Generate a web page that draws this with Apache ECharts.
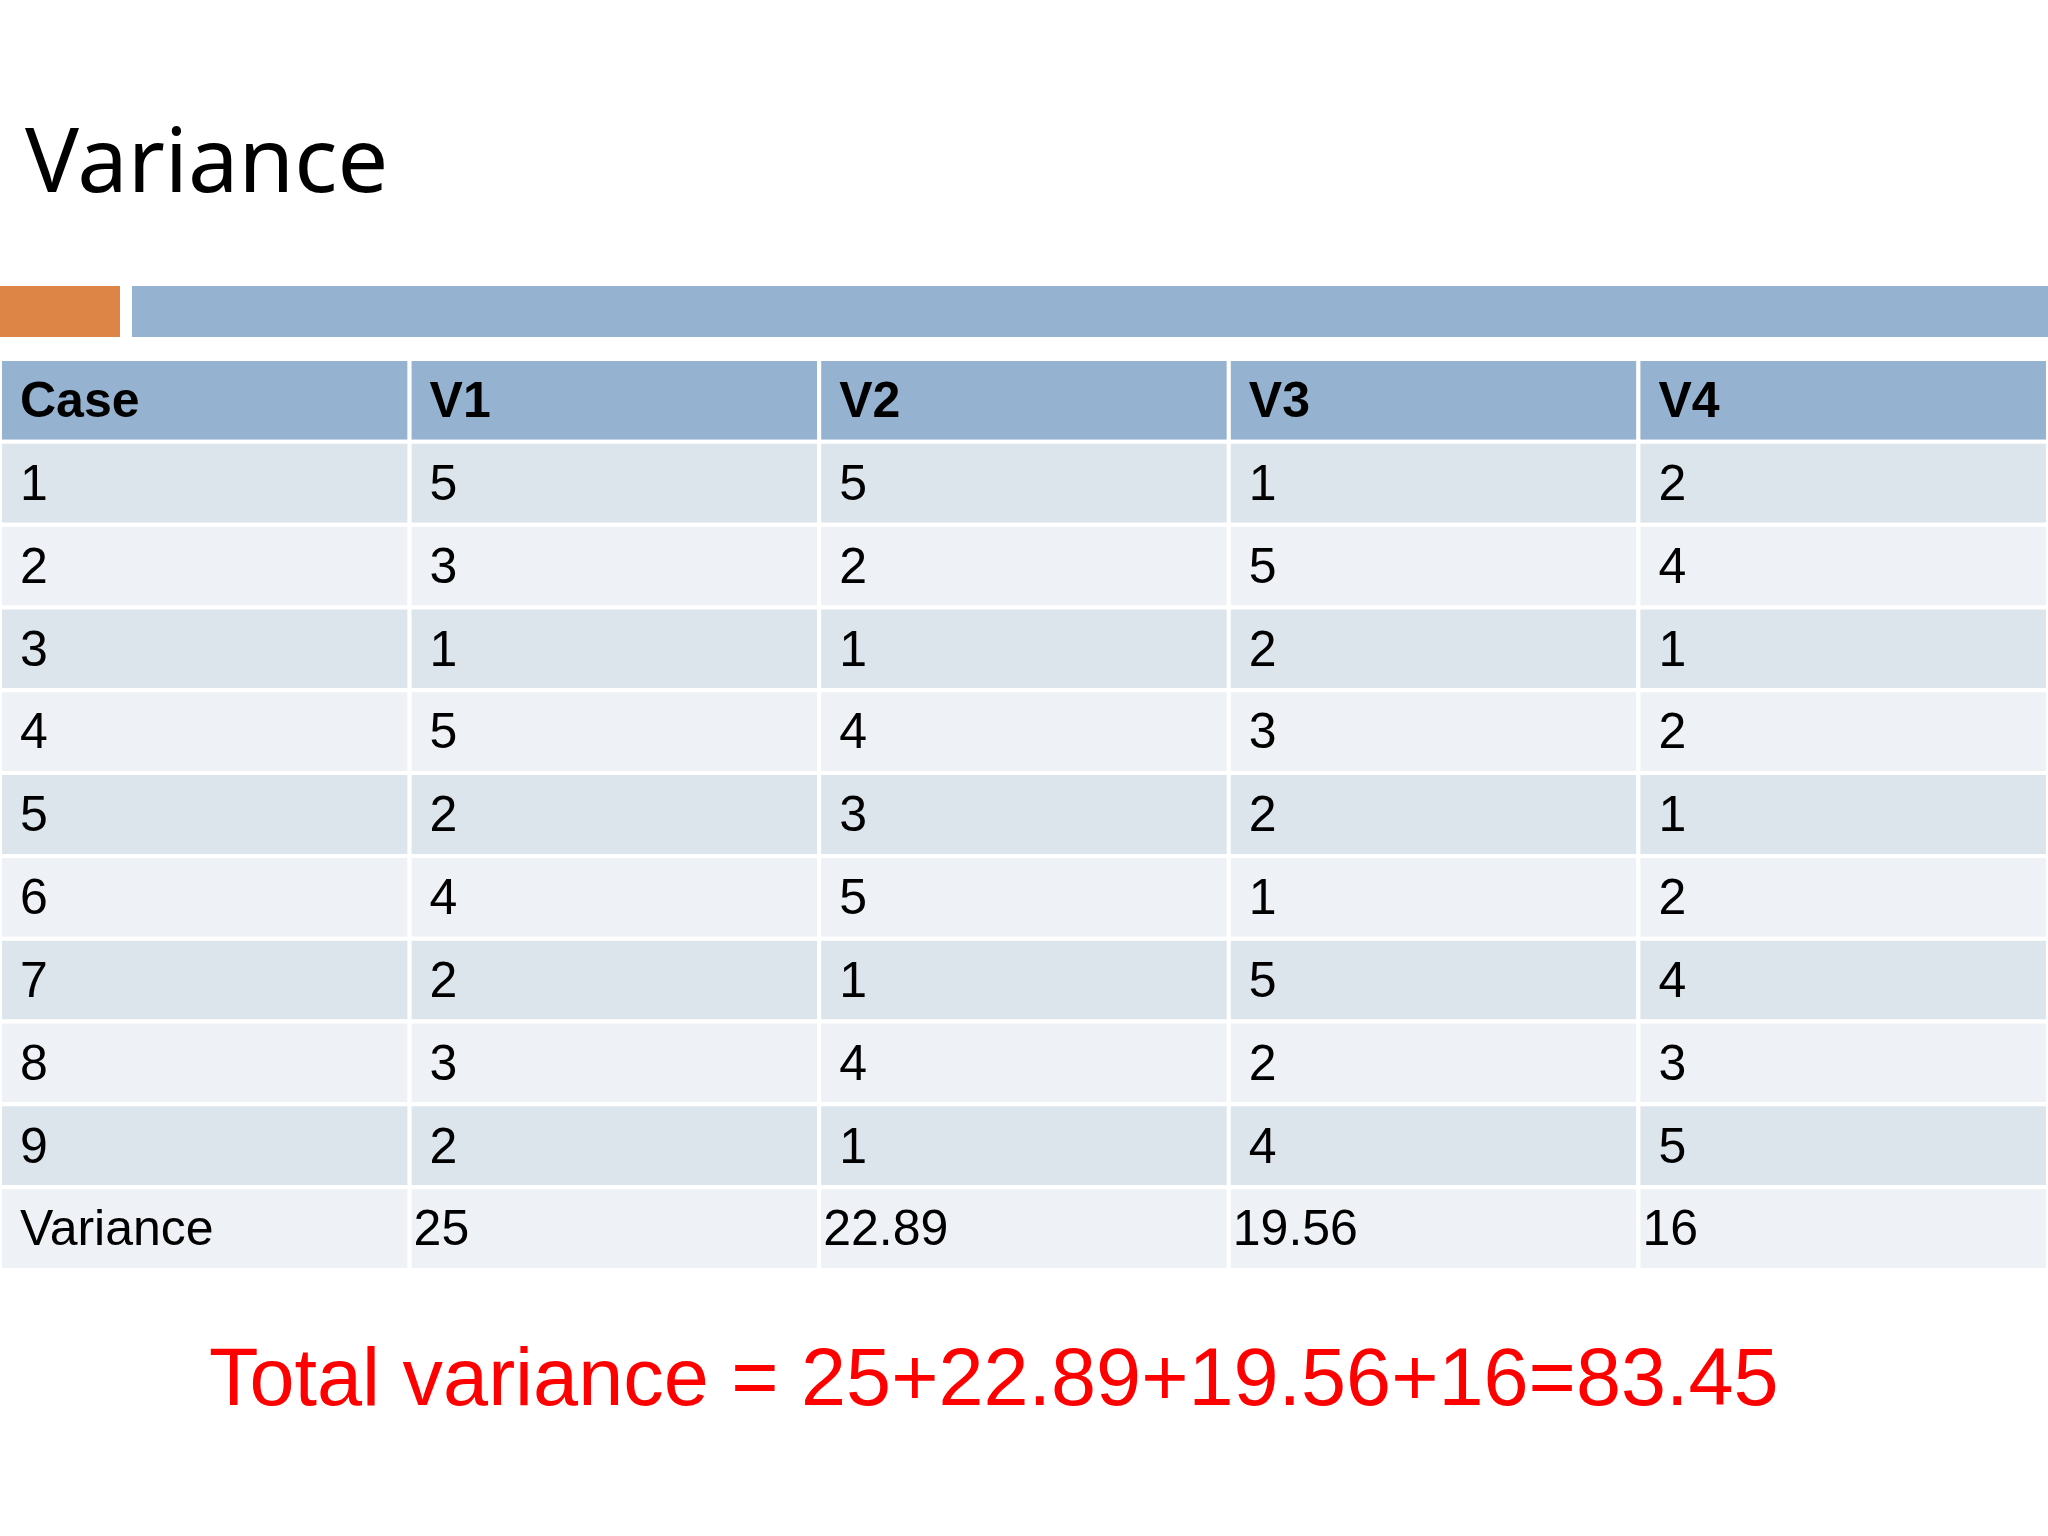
<!DOCTYPE html>
<html>
<head>
<meta charset="utf-8">
<style>html,body{margin:0;padding:0;background:#fff}#chart{width:2048px;height:1536px}</style>
<script src="https://cdn.jsdelivr.net/npm/echarts@6/dist/echarts.min.js"></script>
</head>
<body>
<div id="chart"></div>
<script>
var headers = ['Case', 'V1', 'V2', 'V3', 'V4'];
var cases = ['1', '2', '3', '4', '5', '6', '7', '8', '9'];
var v1 = [5, 3, 1, 5, 2, 4, 2, 3, 2];
var v2 = [5, 2, 1, 4, 3, 5, 1, 4, 1];
var v3 = [1, 5, 2, 3, 2, 1, 5, 2, 4];
var v4 = [2, 4, 1, 2, 1, 2, 4, 3, 5];
var variances = ['25', '22.89', '19.56', '16'];
var totalText = 'Total variance = 25+22.89+19.56+16=83.45';

var cols = [cases, v1, v2, v3, v4];
var rowNames = ['h'].concat(cases).concat(['var']);
var cells = [];
for (var c = 0; c < 5; c++) {
  cells.push([c, 0, headers[c]]);
  for (var r = 0; r < 9; r++) cells.push([c, r + 1, String(cols[c][r])]);
  cells.push([c, 10, c === 0 ? 'Variance' : variances[c - 1]]);
}

var chart = echarts.init(document.getElementById('chart'));
chart.setOption({
  animation: false,
  title: {
    text: 'Variance', left: 20, top: 116,
    textStyle: { fontFamily: 'Noto Sans', fontWeight: 'normal', fontSize: 90, color: '#000' }
  },
  graphic: [
    { type: 'rect', shape: { x: 0, y: 286, width: 120, height: 51 }, style: { fill: '#DD8447' } },
    { type: 'rect', shape: { x: 132, y: 286, width: 1916, height: 51 }, style: { fill: '#95B3D0' } },
    { type: 'text', left: 209, top: 1342, style: { text: totalText, fill: '#FF0000', font: '81px Liberation Sans' } }
  ],
  grid: { left: 0, right: 0, top: 359, height: 911 },
  xAxis: { type: 'category', data: headers, show: false },
  yAxis: { type: 'category', data: rowNames, inverse: true, show: false },
  series: [{
    type: 'custom',
    data: cells,
    renderItem: function (params, api) {
      var p = api.coord([api.value(0), api.value(1)]);
      var s = api.size([1, 1]);
      var row = api.value(1);
      var fill = row === 0 ? '#95B3D0' : (row % 2 === 1 ? '#DCE4EC' : '#EEF2F6');
      var x = p[0] - s[0] / 2, y = p[1] - s[1] / 2;
      var isVarVal = row === 10 && api.value(0) > 0;
      return {
        type: 'group',
        children: [
          { type: 'rect', shape: { x: x, y: y, width: s[0], height: s[1] },
            style: { fill: fill, stroke: '#fff', lineWidth: 4 } },
          { type: 'text', x: x + (isVarVal ? 4 : 20), y: p[1] + 3,
            style: { text: cells[params.dataIndex][2], fill: '#000',
              font: (row === 0 ? 'bold ' : '') + '50px Liberation Sans',
              textVerticalAlign: 'middle' } }
        ]
      };
    }
  }]
});
</script>
</body>
</html>
